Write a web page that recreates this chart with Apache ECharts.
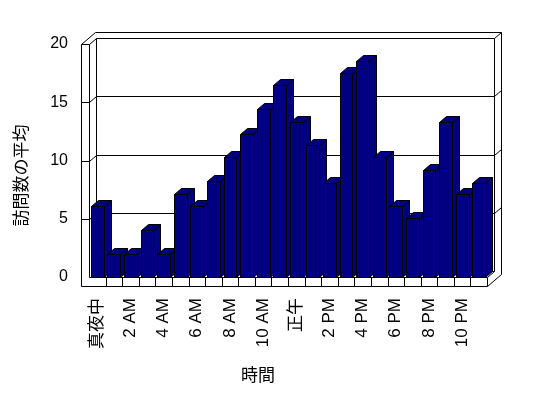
<!DOCTYPE html>
<html>
<head>
<meta charset="utf-8">
<script src="https://cdn.jsdelivr.net/npm/echarts@6/dist/echarts.min.js"></script>
<style>
html,body{margin:0;padding:0;background:#fff;}
#chart{width:548px;height:398px;}
</style>
</head>
<body>
<div id="chart"></div>
<script>
// ---- data ----
const categories = ['真夜中','1 AM','2 AM','3 AM','4 AM','5 AM','6 AM','7 AM','8 AM','9 AM','10 AM','11 AM',
  '正午','1 PM','2 PM','3 PM','4 PM','5 PM','6 PM','7 PM','8 PM','9 PM','10 PM','11 PM'];
const visits = [6.1, 2.0, 2.0, 4.05, 2.0, 7.15, 6.1, 8.2, 10.3, 12.3, 14.4, 16.5,
  13.3, 11.3, 8.1, 17.5, 18.5, 10.3, 6.1, 5.1, 9.2, 13.3, 7.15, 8.1];
const yTicks = [0, 5, 10, 15, 20];
const yTitle = '訪問数の平均';
const xTitle = '時間';

// ---- layout ----
const GL = 89, GR = 487, GT = 44, GB = 277;
const DX = 7, DY = -6;      // depth offset
const WALL = 8, FLOOR = 9;  // left wall / floor thickness
const NAVY = '#000080';
const FONT = '"Liberation Sans","Noto Sans CJK JP",sans-serif';

const chart = echarts.init(document.getElementById('chart'), null, {renderer: 'canvas'});

function renderBar(params, api) {
  const idx = api.value(0);
  const v = api.value(1);
  const base = api.coord([idx, 0]);
  const top = api.coord([idx, v]);
  const band = api.size([1, 0])[0];
  const w = band * 0.77;
  const x0 = Math.round(base[0] - w / 2) + 0.5;
  const x1 = Math.round(base[0] + w / 2) + 0.5;
  const y0 = Math.round(top[1]) + 0.5;
  const yb = Math.round(base[1]) + 0.5;
  const st = {fill: NAVY, stroke: '#000', lineWidth: 1};
  return {
    type: 'group',
    children: [
      {type: 'polygon', shape: {points: [[x1, y0], [x1 + DX, y0 + DY], [x1 + DX, yb + DY], [x1, yb]]}, style: st},
      {type: 'polygon', shape: {points: [[x0, y0], [x1, y0], [x1 + DX, y0 + DY], [x0 + DX, y0 + DY]]}, style: st},
      {type: 'rect', shape: {x: x0, y: y0, width: x1 - x0, height: yb - y0}, style: st}
    ]
  };
}

chart.setOption({
  animation: false,
  backgroundColor: '#fff',
  grid: {left: GL, right: 548 - GR, top: GT, bottom: 398 - GB, containLabel: false},
  xAxis: {
    type: 'category',
    data: categories,
    axisLine: {show: false},
    axisTick: {show: false},
    splitLine: {show: false},
    axisLabel: {interval: 1, rotate: 90, margin: 21, fontSize: 17, color: '#000', fontFamily: FONT},
    name: xTitle,
    nameLocation: 'middle',
    nameGap: 91,
    nameTextStyle: {fontSize: 17, color: '#000', fontFamily: FONT, padding: [0, 60, 0, 0]}
  },
  yAxis: {
    type: 'value',
    min: yTicks[0],
    max: yTicks[yTicks.length - 1],
    interval: 5,
    axisLine: {show: false},
    axisTick: {show: false},
    splitLine: {show: false},
    axisLabel: {margin: 21, fontSize: 16, color: '#000', fontFamily: FONT},
    name: yTitle,
    nameLocation: 'middle',
    nameRotate: 90,
    nameGap: 58,
    nameTextStyle: {fontSize: 17, color: '#000', fontFamily: FONT, padding: [0, 30, 0, 0]}
  },
  series: [{
    type: 'custom',
    renderItem: renderBar,
    data: visits.map((v, i) => [i, v]),
    encode: {x: 0, y: 1},
    z: 5
  }]
});

// ---- 3D frame drawn from the axis scale ----
function p(v) { return Math.round(v) + 0.5; }
const lineStyle = {stroke: '#000', lineWidth: 1, fill: null};
const els = [];
function seg(a, b) {
  els.push({type: 'polyline', shape: {points: [[p(a[0]), p(a[1])], [p(b[0]), p(b[1])]]}, style: lineStyle, z: 1, silent: true});
}
const OL = GL - WALL, FB = GB + FLOOR;
// outer silhouette
els.push({type: 'polyline', shape: {points: [
  [p(OL), p(FB)], [p(OL), p(GT)], [p(OL + 2 * DX), p(GT + 2 * DY)], [p(GR + 2 * DX), p(GT + 2 * DY)],
  [p(GR + 2 * DX), p(FB + 2 * DY)], [p(GR), p(FB)], [p(OL), p(FB)]]}, style: lineStyle, z: 1, silent: true});
// left wall
seg([OL, GT], [GL, GT]);
seg([GL, GT], [GL + DX, GT + DY]);
seg([GL, GT], [GL, GB]);
// back wall inner face
seg([GL + DX, GT + DY], [GR + DX, GT + DY]);
seg([GR + DX, GT + DY], [GR + DX, GB + DY]);
seg([GR + DX, GT + DY], [GR + 2 * DX, GT + 2 * DY]);
seg([GL + DX, GT + DY], [GL + DX, GB + DY]);
// floor
seg([GL, GB], [GR, GB]);
seg([GL + DX, GB + DY], [GR + DX, GB + DY]);
seg([GR, GB], [GR + DX, GB + DY]);
seg([GR, GB], [GR, FB]);
// gridlines
yTicks.slice(1, -1).forEach(t => {
  const yf = chart.convertToPixel({yAxisIndex: 0}, t);
  seg([OL, yf], [GL, yf]);
  seg([GL, yf], [GL + DX, yf + DY]);
  seg([GL + DX, yf + DY], [GR + DX, yf + DY]);
  seg([GR + DX, yf + DY], [GR + 2 * DX, yf + 2 * DY]);
});
// category boundary ticks on floor front
for (let k = 1; k < categories.length; k++) {
  const x = GL + k * (GR - GL) / categories.length;
  seg([x, GB], [x, FB]);
}
chart.setOption({graphic: {elements: els}});
</script>
</body>
</html>
